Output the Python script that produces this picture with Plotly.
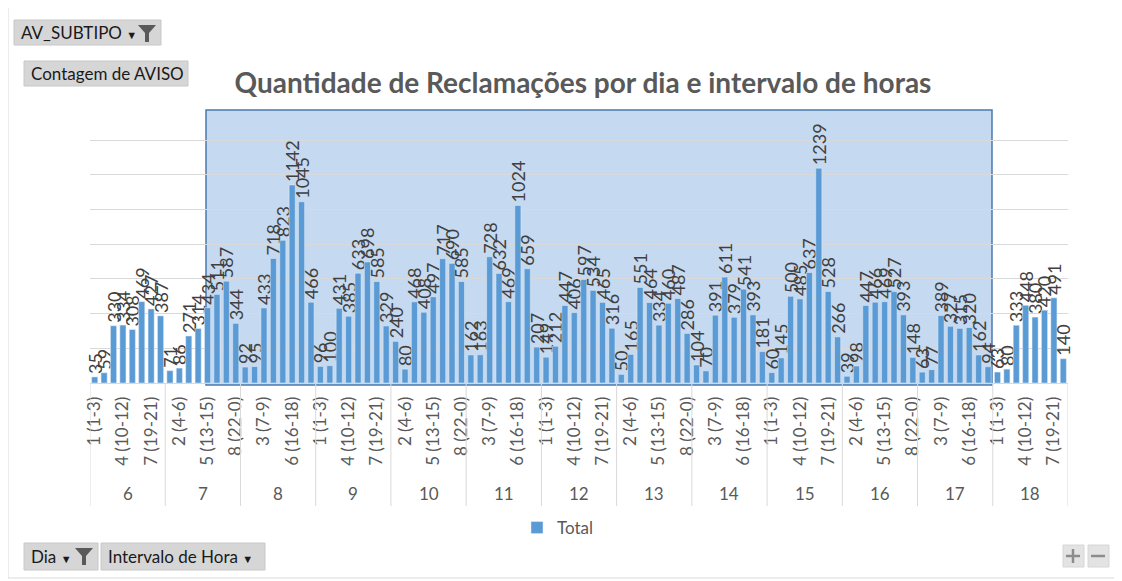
import plotly.graph_objects as go

days = [6, 7, 8, 9, 10, 11, 12, 13, 14, 15, 16, 17, 18]
intervals = ["1 (1-3)", "2 (4-6)", "3 (7-9)", "4 (10-12)", "5 (13-15)",
             "6 (16-18)", "7 (19-21)", "8 (22-0)"]
d6 = [35, 59, 330, 334, 308, 469, 427, 387]
d7 = [71, 86, 271, 314, 434, 511, 587, 344]
d8 = [92, 95, 433, 718, 823, 1142, 1045, 466]
d9 = [96, 100, 431, 385, 633, 698, 585, 329]
d10 = [240, 80, 468, 408, 497, 717, 690, 585]
d11 = [162, 163, 728, 632, 469, 1024, 659, 207]
d12 = [149, 212, 447, 406, 597, 534, 465, 316]
d13 = [50, 165, 551, 464, 334, 460, 487, 286]
d14 = [104, 70, 391, 611, 379, 541, 393, 181]
d15 = [60, 145, 500, 485, 637, 1239, 528, 266]
d16 = [39, 98, 447, 466, 469, 527, 393, 148]
d17 = [63, 77, 389, 327, 315, 320, 162, 94]
d18 = [63, 80, 333, 448, 380, 420, 491, 140]
per_day = [d6, d7, d8, d9, d10, d11, d12, d13, d14, d15, d16, d17, d18]

values = [v for d in per_day for v in d]
xs = list(range(len(values)))
tickvals = [i for i in xs if i % 3 == 0]
ticktext = [intervals[i % 8] for i in tickvals]

OFF = 8  # browser body margin
W, H = 1122 - OFF, 581 - OFF
# plot area in reference (window) pixels
L, R, T, B = 90, 1068, 109, 383


def px(x):
    return (x - L) / (R - L)


def py(y):
    return (B - y) / (B - T)


GRAY = "#595959"
FONT = "Lato"
fig = go.Figure()
fig.add_trace(go.Bar(
    x=xs, y=values, name="Total", marker_color="#5B9BD5",
    text=values, textposition="outside", textangle=-90,
    constraintext="none", cliponaxis=False,
    textfont=dict(size=18, color="#404040", family=FONT),
))

shapes = []
# highlighted selection box
shapes.append(dict(type="rect", xref="paper", yref="paper",
                   x0=px(206), x1=px(992), y0=py(385), y1=py(110),
                   fillcolor="#C5D9F0", line=dict(color="#4A79B0", width=1.5),
                   layer="below"))
# day separators
for k in range(len(days) + 1):
    shapes.append(dict(type="line", xref="x", yref="paper",
                       x0=k * 8 - 0.5, x1=k * 8 - 0.5, y0=0, y1=py(506),
                       line=dict(color="#D9D9D9", width=1)))
# outer border
shapes.append(dict(type="rect", xref="paper", yref="paper",
                   x0=px(8), x1=px(1116), y0=py(578), y1=py(7),
                   line=dict(color="#D9D9D9", width=1)))

annotations = []
for k, d in enumerate(days):
    annotations.append(dict(x=k * 8 + 3.5, y=py(493), xref="x", yref="paper",
                            text=str(d), showarrow=False, yanchor="middle",
                            font=dict(size=17, color=GRAY, family=FONT)))


def button(x0, y0, x1, y1, text, size=17):
    shapes.append(dict(type="rect", xref="paper", yref="paper",
                       x0=px(x0), x1=px(x1), y0=py(y1), y1=py(y0),
                       fillcolor="#D6D6D6", line=dict(color="#C8C8C8", width=1),
                       layer="above"))
    annotations.append(dict(x=px(x0 + 5), y=py((y0 + y1) / 2), xref="paper",
                            yref="paper", text=text, showarrow=False,
                            xanchor="left", yanchor="middle",
                            font=dict(size=size, color="#1a1a1a", family=FONT)))


def funnel(cx, cy):
    pts = [(cx - 9, cy - 8), (cx + 9, cy - 8), (cx + 2, cy), (cx + 2, cy + 9),
           (cx - 2, cy + 9), (cx - 2, cy)]
    path = "M " + " L ".join(f"{px(a)},{py(b)}" for a, b in pts) + " Z"
    shapes.append(dict(type="path", xref="paper", yref="paper", path=path,
                       fillcolor="#595959", line=dict(width=0), layer="above"))


button(14, 20, 161, 45, "AV_SUBTIPO <span style='font-size:11px'>▼</span>")
funnel(147, 33)
button(24, 61, 188, 86, "Contagem de AVISO")
button(24, 543, 98, 570, "Dia <span style='font-size:11px'>▼</span>")
funnel(84, 556)
button(101, 543, 265, 570, "Intervalo de Hora <span style='font-size:11px'>▼</span>")
# +/- buttons
for x0 in (1063, 1088):
    shapes.append(dict(type="rect", xref="paper", yref="paper",
                       x0=px(x0), x1=px(x0 + 21), y0=py(567), y1=py(545),
                       fillcolor="#E3E3E3", line=dict(color="#D6D6D6", width=1)))
# plus sign
shapes.append(dict(type="line", xref="paper", yref="paper",
                   x0=px(1066), x1=px(1080), y0=py(556), y1=py(556),
                   line=dict(color="#8C8C8C", width=2.5)))
shapes.append(dict(type="line", xref="paper", yref="paper",
                   x0=px(1073), x1=px(1073), y0=py(549), y1=py(563),
                   line=dict(color="#8C8C8C", width=2.5)))
# minus sign
shapes.append(dict(type="line", xref="paper", yref="paper",
                   x0=px(1091), x1=px(1105), y0=py(556), y1=py(556),
                   line=dict(color="#8C8C8C", width=2.5)))

fig.update_layout(
    width=W, height=H, autosize=False,
    margin=dict(l=L - OFF, r=W - (R - OFF), t=T - OFF, b=H - (B - OFF)),
    paper_bgcolor="white", plot_bgcolor="rgba(0,0,0,0)",
    bargap=0.35,
    title=dict(text="<b>Quantidade de Reclamações por dia e intervalo de horas</b>",
               x=px(583), xanchor="center", xref="paper",
               y=1 - (83 - OFF) / H, yanchor="middle",
               font=dict(size=28, color=GRAY, family=FONT)),
    xaxis=dict(range=[-0.5, len(values) - 0.5], tickvals=tickvals, ticktext=ticktext,
               tickangle=-90, showgrid=False, showline=True, linecolor="#D9D9D9",
               ticks="", zeroline=False, ticklabelstandoff=6,
               tickfont=dict(size=17, color=GRAY, family=FONT)),
    yaxis=dict(range=[0, 1580], dtick=200, showticklabels=False,
               gridcolor="#D9D9D9", zeroline=False, showline=False),
    showlegend=True,
    legend=dict(orientation="h", x=px(517), xanchor="left", y=py(528),
                yanchor="middle", font=dict(size=17, color=GRAY, family=FONT),
                itemwidth=30),
    shapes=shapes, annotations=annotations,
)
fig.write_html("out.html")
